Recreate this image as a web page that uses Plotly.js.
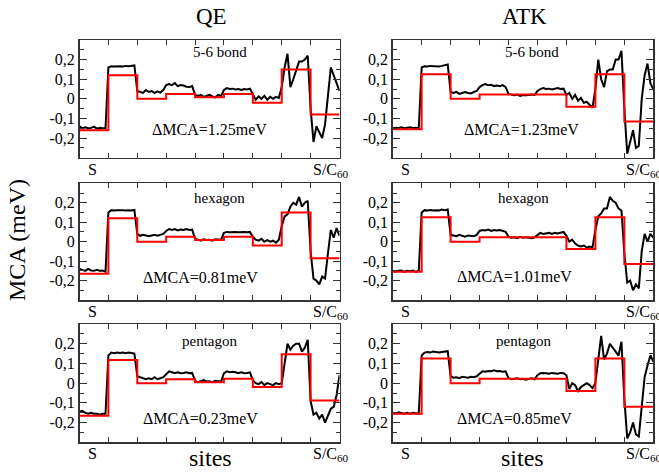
<!DOCTYPE html>
<html>
<head>
<meta charset="utf-8">
<script src="https://cdn.plot.ly/plotly-3.0.1.min.js"></script>
<style>html,body{margin:0;padding:0;background:#fff;}</style>
</head>
<body>
<div id="chart" style="width:659px;height:472px;"></div>
<script>
// Sites: 9 layer segments between S (0) and S/C60 (9), black curve sampled every 0.1 site
const segmentEdges = [0,1,2,3,4,5,6,7,8,9];
const yTickVals = [-0.2,-0.1,0,0.1,0.2];
const yTickText = ['-0,2','-0,1','0','0,1','0,2'];
const yMinorVals = [-0.25,-0.15,-0.05,0.05,0.15,0.25];
const columnTitles = ['QE','ATK'];
const panelLabels = ['5-6 bond','5-6 bond','hexagon','hexagon','pentagon','pentagon'];
const deltaLabels = ['\u0394MCA=1.25meV','\u0394MCA=1.23meV','\u0394MCA=0.81meV','\u0394MCA=1.01meV','\u0394MCA=0.23meV','\u0394MCA=0.85meV'];

// red step (layer-averaged MCA) per panel
const redQE56  = [-0.16, 0.12, 0.0, 0.025, 0.008, 0.025, -0.02, 0.15, -0.08];
const redATK56 = [-0.155, 0.125, 0.0, 0.022, 0.022, 0.022, -0.04, 0.125, -0.115];
const redQEhex = [-0.165, 0.12, 0.0, 0.025, 0.008, 0.025, -0.02, 0.15, -0.085];
const redATKhex= [-0.155, 0.125, 0.0, 0.022, 0.022, 0.022, -0.038, 0.125, -0.115];
const redQEpen = [-0.165, 0.118, 0.0, 0.02, 0.005, 0.022, -0.02, 0.147, -0.088];
const redATKpen= [-0.155, 0.125, 0.0, 0.022, 0.022, 0.022, -0.04, 0.125, -0.12];

// black site-resolved MCA per panel (91 samples)
const blkQE56 = [
 -0.14,-0.15,-0.145,-0.15,-0.148,-0.142,-0.152,-0.147,-0.15,-0.15,
 0.16,0.166,0.165,0.167,0.166,0.165,0.168,0.166,0.167,0.17,
 0.04,0.035,0.03,0.045,0.035,0.04,0.03,0.038,0.032,0.045,
 0.07,0.075,0.07,0.08,0.065,0.07,0.068,0.062,0.06,0.065,
 0.02,0.015,0.02,0.01,0.015,0.02,0.012,0.008,0.02,0.015,
 0.045,0.055,0.05,0.052,0.048,0.05,0.045,0.05,0.048,0.052,
 0.025,-0.005,0.012,0.0,0.015,-0.005,0.01,0.0,0.01,0.005,
 0.06,0.16,0.23,0.06,0.10,0.14,0.19,0.19,0.20,0.22,
 -0.05,-0.22,-0.14,-0.17,-0.2,-0.13,0.0,0.16,0.12,0.08,0.04];
const blkATK56 = [
 -0.15,-0.148,-0.15,-0.145,-0.15,-0.148,-0.145,-0.15,-0.148,-0.15,
 0.16,0.166,0.165,0.168,0.166,0.167,0.165,0.168,0.17,0.175,
 0.035,0.03,0.035,0.025,0.03,0.035,0.03,0.028,0.035,0.04,
 0.06,0.07,0.075,0.07,0.072,0.065,0.068,0.065,0.07,0.06,
 0.025,0.02,0.018,0.022,0.015,0.02,0.018,0.02,0.022,0.02,
 0.04,0.05,0.055,0.05,0.052,0.048,0.05,0.055,0.05,0.052,
 0.02,0.03,0.0,0.02,-0.01,0.005,-0.02,-0.015,-0.03,-0.045,
 0.05,0.2,0.1,0.06,0.14,0.15,0.15,0.2,0.2,0.245,
 -0.05,-0.28,-0.22,-0.16,-0.25,-0.24,0.0,0.12,0.18,0.08,0.05];
const blkQEhex = [
 -0.14,-0.145,-0.15,-0.14,-0.148,-0.15,-0.145,-0.15,-0.148,-0.155,
 0.15,0.162,0.16,0.162,0.16,0.161,0.16,0.162,0.16,0.163,
 0.04,0.03,0.035,0.03,0.028,0.032,0.035,0.03,0.035,0.04,
 0.055,0.065,0.06,0.065,0.058,0.062,0.06,0.065,0.06,0.062,
 0.015,0.01,0.005,0.012,0.008,0.01,0.005,0.012,0.01,0.01,
 0.045,0.05,0.048,0.05,0.05,0.048,0.05,0.05,0.048,0.05,
 0.025,0.01,0.005,0.015,0.0,0.008,0.0,0.005,-0.005,0.01,
 0.08,0.13,0.14,0.18,0.2,0.19,0.23,0.18,0.2,0.21,
 -0.05,-0.19,-0.2,-0.22,-0.18,-0.19,-0.06,0.06,0.02,0.07,0.03];
const blkATKhex = [
 -0.15,-0.155,-0.15,-0.148,-0.155,-0.15,-0.152,-0.148,-0.155,-0.15,
 0.15,0.162,0.16,0.163,0.16,0.162,0.16,0.165,0.162,0.165,
 0.035,0.03,0.028,0.035,0.03,0.025,0.032,0.03,0.028,0.035,
 0.055,0.06,0.058,0.062,0.055,0.06,0.058,0.06,0.055,0.05,
 0.025,0.02,0.022,0.018,0.025,0.02,0.022,0.02,0.018,0.022,
 0.035,0.045,0.04,0.042,0.045,0.04,0.045,0.042,0.045,0.05,
 0.03,0.0,0.01,-0.01,-0.02,-0.025,-0.02,-0.03,-0.025,-0.03,
 0.06,0.13,0.145,0.17,0.17,0.23,0.21,0.2,0.17,0.16,
 -0.06,-0.21,-0.2,-0.25,-0.22,-0.24,-0.05,0.04,0.0,0.04,0.02];
const blkQEpen = [
 -0.145,-0.14,-0.15,-0.155,-0.15,-0.155,-0.155,-0.16,-0.155,-0.155,
 0.14,0.155,0.152,0.155,0.153,0.155,0.152,0.155,0.153,0.15,
 0.035,0.03,0.025,0.02,0.025,0.02,0.03,0.02,0.025,0.03,
 0.045,0.06,0.055,0.05,0.055,0.05,0.052,0.055,0.05,0.052,
 0.012,0.005,0.01,0.015,0.008,0.01,0.005,0.012,0.01,0.008,
 0.05,0.06,0.055,0.058,0.055,0.05,0.055,0.05,0.052,0.055,
 0.015,0.0,-0.005,0.005,-0.01,0.0,-0.005,-0.01,0.0,-0.005,
 0.0,0.1,0.2,0.17,0.19,0.2,0.2,0.16,0.18,0.22,
 -0.09,-0.16,-0.15,-0.18,-0.16,-0.2,-0.16,-0.13,-0.12,-0.06,0.04];
const blkATKpen = [
 -0.15,-0.155,-0.148,-0.152,-0.155,-0.15,-0.155,-0.15,-0.152,-0.155,
 0.14,0.155,0.158,0.155,0.16,0.157,0.155,0.158,0.16,0.162,
 0.035,0.028,0.03,0.025,0.032,0.03,0.028,0.032,0.03,0.035,
 0.05,0.06,0.058,0.062,0.06,0.065,0.06,0.062,0.058,0.06,
 0.025,0.02,0.022,0.025,0.02,0.022,0.018,0.022,0.025,0.02,
 0.04,0.05,0.052,0.05,0.048,0.052,0.05,0.048,0.052,0.05,
 0.04,-0.03,0.0,-0.01,-0.04,-0.02,-0.01,0.0,-0.01,-0.025,
 0.0,0.12,0.24,0.12,0.15,0.2,0.18,0.16,0.14,0.21,
 -0.08,-0.28,-0.25,-0.2,-0.26,-0.27,-0.12,0.03,0.09,0.14,0.11];

const reds = [redQE56, redATK56, redQEhex, redATKhex, redQEpen, redATKpen];
const blacks = [blkQE56, blkATK56, blkQEhex, blkATKhex, blkQEpen, blkATKpen];

const W = 659, H = 472;
const colDomains = [[79.5/W, 339.5/W], [392.7/W, 653.3/W]];
const rowDomains = [[1-157.7/H, 1-40/H], [1-300/H, 1-183.3/H], [1-442.3/H, 1-324/H]];
const labelPos = [[0.239,-0.154],[0.239,-0.154],[0.223,-0.185],[0.223,-0.18],[0.216,-0.178],[0.216,-0.178]];
const labelX = [[4.85,4.5],[4.8,4.46],[4.85,4.2],[4.5,4.2],[4.5,4.2],[4.5,4.2]];

const serif = 'Liberation Serif, Times New Roman, serif';
const frame = '#333';
const traces = [];
const layout = {
  width: W, height: H, autosize: false,
  margin: {l:0, r:0, t:0, b:0},
  paper_bgcolor: '#fff', plot_bgcolor: '#fff',
  showlegend: false,
  font: {family: serif, color: '#000', size: 16},
  annotations: []
};

for (let p = 0; p < 6; p++) {
  const n = p + 1;
  const xa = 'x' + (n === 1 ? '' : n), ya = 'y' + (n === 1 ? '' : n);
  const xs = blacks[p].map((_, i) => i / 10);
  traces.push({x: xs, y: blacks[p], xaxis: xa, yaxis: ya, type: 'scatter', mode: 'lines',
    line: {color: '#000', width: 2}, hoverinfo: 'skip'});
  traces.push({x: segmentEdges, y: reds[p].concat([reds[p][8]]), xaxis: xa, yaxis: ya,
    type: 'scatter', mode: 'lines', line: {color: '#ff0000', width: 2, shape: 'hv'}, hoverinfo: 'skip'});
  const col = p % 2, row = Math.floor(p / 2);
  layout['xaxis' + (n === 1 ? '' : n)] = {
    domain: colDomains[col], anchor: ya, range: [0, 9],
    tickvals: segmentEdges, ticks: 'inside', ticklen: 5, tickcolor: frame, tickwidth: 1,
    showticklabels: false, showline: true, mirror: 'ticks', linecolor: frame, linewidth: 1.5,
    showgrid: false, zeroline: false, fixedrange: true
  };
  layout['yaxis' + (n === 1 ? '' : n)] = {
    domain: rowDomains[row], anchor: xa, range: [-0.3, 0.3],
    tickvals: yTickVals, ticktext: yTickText, ticks: 'inside', ticklen: 7, tickcolor: frame, tickwidth: 1,
    minor: {tickvals: yMinorVals, ticks: 'inside', ticklen: 4, tickcolor: frame, tickwidth: 1, showgrid: false},
    tickfont: {family: serif, size: 16, color: '#000'},
    showline: true, mirror: 'ticks', linecolor: frame, linewidth: 1.5,
    showgrid: false, zeroline: false, fixedrange: true
  };
  layout.annotations.push({xref: xa, yref: ya, x: labelX[p][0], y: labelPos[p][0], text: panelLabels[p],
    showarrow: false, font: {family: serif, size: 15, color: '#000'}, xanchor: 'center', yanchor: 'middle'});
  layout.annotations.push({xref: xa, yref: ya, x: labelX[p][1], y: labelPos[p][1], text: deltaLabels[p],
    showarrow: false, font: {family: serif, size: 16, color: '#000'}, xanchor: 'center', yanchor: 'middle'});
  layout.annotations.push({xref: xa, yref: ya + ' domain', x: 0, y: 0, text: 'S', showarrow: false,
    xanchor: 'left', yanchor: 'top', xshift: 6, yshift: -1, font: {family: serif, size: 16, color: '#000'}});
  layout.annotations.push({xref: xa, yref: ya + ' domain', x: 9, y: 0, text: 'S/C<sub>60</sub>', showarrow: false,
    xanchor: 'left', yanchor: 'top', xshift: -29, yshift: -1, font: {family: serif, size: 16, color: '#000'}});
}

layout.annotations.push({xref: 'paper', yref: 'paper', x: 212/W, y: 1-16/H, text: columnTitles[0], showarrow: false,
  xanchor: 'center', yanchor: 'middle', font: {family: serif, size: 23, color: '#000'}});
layout.annotations.push({xref: 'paper', yref: 'paper', x: 524/W, y: 1-16/H, text: columnTitles[1], showarrow: false,
  xanchor: 'center', yanchor: 'middle', font: {family: serif, size: 23, color: '#000'}});
layout.annotations.push({xref: 'paper', yref: 'paper', x: 17/W, y: 1-240/H, text: 'MCA (meV)', showarrow: false,
  textangle: -90, xanchor: 'center', yanchor: 'middle', font: {family: serif, size: 24, color: '#000'}});
layout.annotations.push({xref: 'paper', yref: 'paper', x: 211/W, y: 1-458/H, text: 'sites', showarrow: false,
  xanchor: 'center', yanchor: 'middle', font: {family: serif, size: 24, color: '#000'}});
layout.annotations.push({xref: 'paper', yref: 'paper', x: 522/W, y: 1-458/H, text: 'sites', showarrow: false,
  xanchor: 'center', yanchor: 'middle', font: {family: serif, size: 24, color: '#000'}});

Plotly.newPlot('chart', traces, layout, {displayModeBar: false, staticPlot: true});
</script>
</body>
</html>
